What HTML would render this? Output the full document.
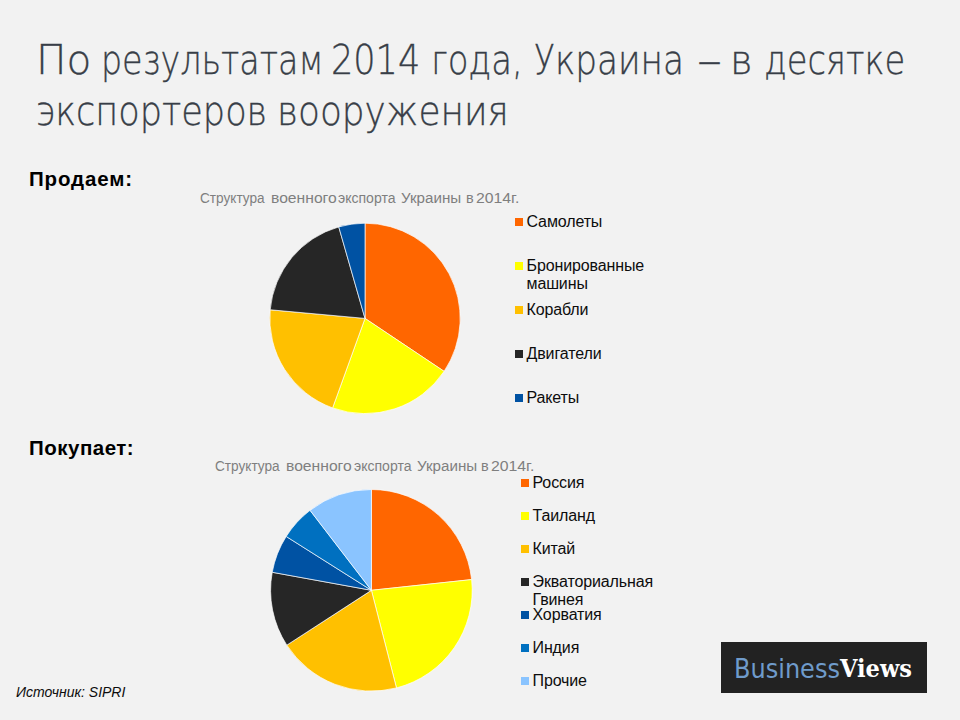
<!DOCTYPE html>
<html><head><meta charset="utf-8"><style>
html,body{margin:0;padding:0;}
body{width:960px;height:720px;background:#F2F2F2;position:relative;overflow:hidden;font-family:"Liberation Sans",Arial,sans-serif;}
.tt{margin:0;font-size:0}
.t{position:absolute;color:#383E47;font-family:"DejaVu Sans","Liberation Sans",sans-serif;font-weight:200;font-size:41px;white-space:nowrap;line-height:1;transform-origin:0 0;-webkit-text-stroke:0.35px #383E47}
.h{position:absolute;left:29px;font-weight:bold;font-size:20.5px;color:#000;line-height:1;white-space:nowrap;letter-spacing:0.85px}
.ctw{font-size:0}
.ct{position:absolute;color:#7F7F7F;font-size:14px;line-height:1;white-space:nowrap;transform-origin:0 0}
.sq{position:absolute;width:8px;height:8px}
.lg{position:absolute;font-size:16px;line-height:18px;color:#0D0D0D;white-space:nowrap;letter-spacing:-0.12px}
.src{position:absolute;left:16px;top:685px;font-style:italic;font-size:14px;color:#0D0D0D;line-height:1;white-space:nowrap}
.logo{position:absolute;left:721px;top:642px;width:206px;height:51px;background:#222222}
.logo span{position:absolute;line-height:1;white-space:nowrap;transform-origin:0 0}
svg{position:absolute;left:0;top:0}
.d{display:inline-block;transform:scaleX(1.7)}
</style></head><body>
<h1 class="tt"><span class="t" style="left:35.54px;top:40.0px;transform:scaleX(0.9898)">По</span> <span class="t" style="left:101.25px;top:40.0px;transform:scaleX(0.8113)">результатам</span> <span class="t" style="left:330.79px;top:40.0px;transform:scaleX(0.855)">2014</span> <span class="t" style="left:431.2px;top:40.0px;transform:scaleX(0.826)">года,</span> <span class="t" style="left:533.66px;top:40.0px;transform:scaleX(0.8362)">Украина</span> <span class="t" style="left:696.78px;top:40.0px;transform:scaleX(1.2222)">–</span> <span class="t" style="left:730.24px;top:40.0px;transform:scaleX(0.9412)">в</span> <span class="t" style="left:763.86px;top:40.0px;transform:scaleX(0.8214)">десятке</span> <span class="t" style="left:36.29px;top:90.6px;transform:scaleX(0.8556)">экспортеров</span> <span class="t" style="left:276.8px;top:90.6px;transform:scaleX(0.8743)">вооружения</span></h1>
<div class="h" style="top:168.9px">Продаем:</div>
<div class="h" style="top:438.0px;letter-spacing:0.5px">Покупает:</div>
<div class="ctw"><span class="ct" style="left:199.63px;top:191.4px;transform:scaleX(0.9727)">Структура</span> <span class="ct" style="left:270.78px;top:191.4px;transform:scaleX(1.1193)">военного</span> <span class="ct" style="left:338.40px;top:191.4px;transform:scaleX(1.0036)">экспорта</span> <span class="ct" style="left:401.42px;top:191.4px;transform:scaleX(1.0833)">Украины</span> <span class="ct" style="left:465.87px;top:191.4px;transform:scaleX(1.0333)">в</span> <span class="ct" style="left:476.37px;top:191.4px;transform:scaleX(1.1278)">2014г.</span></div>
<div class="ctw"><span class="ct" style="left:214.73px;top:459.0px;transform:scaleX(0.9727)">Структура</span> <span class="ct" style="left:285.88px;top:459.0px;transform:scaleX(1.1193)">военного</span> <span class="ct" style="left:353.50px;top:459.0px;transform:scaleX(1.0036)">экспорта</span> <span class="ct" style="left:416.52px;top:459.0px;transform:scaleX(1.0833)">Украины</span> <span class="ct" style="left:480.97px;top:459.0px;transform:scaleX(1.0333)">в</span> <span class="ct" style="left:491.47px;top:459.0px;transform:scaleX(1.1278)">2014г.</span></div>
<svg width="960" height="720" viewBox="0 0 960 720">
<g stroke="#ffffff" stroke-opacity="0.85" stroke-width="0.8" stroke-linejoin="round">
<path d="M365.00,318.40 L365.00,223.20 A95.2,95.2 0 0 1 444.11,371.36 Z" fill="#FF6600"/>
<path d="M365.00,318.40 L444.11,371.36 A95.2,95.2 0 0 1 332.60,407.92 Z" fill="#FFFF00"/>
<path d="M365.00,318.40 L332.60,407.92 A95.2,95.2 0 0 1 270.19,309.77 Z" fill="#FFC000"/>
<path d="M365.00,318.40 L270.19,309.77 A95.2,95.2 0 0 1 338.76,226.89 Z" fill="#262626"/>
<path d="M365.00,318.40 L338.76,226.89 A95.2,95.2 0 0 1 365.00,223.20 Z" fill="#0052A3"/>
<path d="M371.40,590.30 L371.40,489.50 A100.8,100.8 0 0 1 471.63,579.59 Z" fill="#FF6600"/>
<path d="M371.40,590.30 L471.63,579.59 A100.8,100.8 0 0 1 396.47,687.93 Z" fill="#FFFF00"/>
<path d="M371.40,590.30 L396.47,687.93 A100.8,100.8 0 0 1 286.81,645.13 Z" fill="#FFC000"/>
<path d="M371.40,590.30 L286.81,645.13 A100.8,100.8 0 0 1 272.22,572.28 Z" fill="#262626"/>
<path d="M371.40,590.30 L272.22,572.28 A100.8,100.8 0 0 1 286.20,536.44 Z" fill="#0052A3"/>
<path d="M371.40,590.30 L286.20,536.44 A100.8,100.8 0 0 1 310.04,510.33 Z" fill="#0070C0"/>
<path d="M371.40,590.30 L310.04,510.33 A100.8,100.8 0 0 1 371.40,489.50 Z" fill="#8AC4FF"/>
</g>
</svg>
<div class="sq" style="left:514.5px;top:218.2px;background:#FF6600"></div>
<div class="lg" style="left:526.5px;top:213.2px">Самолеты</div>
<div class="sq" style="left:514.5px;top:261.8px;background:#FFFF00"></div>
<div class="lg" style="left:526.5px;top:256.8px">Бронированные<br>машины</div>
<div class="sq" style="left:514.5px;top:306.2px;background:#FFC000"></div>
<div class="lg" style="left:526.5px;top:301.2px">Корабли</div>
<div class="sq" style="left:514.5px;top:350.3px;background:#262626"></div>
<div class="lg" style="left:526.5px;top:345.3px">Двигатели</div>
<div class="sq" style="left:514.5px;top:394.0px;background:#0052A3"></div>
<div class="lg" style="left:526.5px;top:389.0px">Ракеты</div>
<div class="sq" style="left:521px;top:479.2px;background:#FF6600"></div>
<div class="lg" style="left:532.5px;top:474.2px">Россия</div>
<div class="sq" style="left:521px;top:512.3px;background:#FFFF00"></div>
<div class="lg" style="left:532.5px;top:507.3px">Таиланд</div>
<div class="sq" style="left:521px;top:544.8px;background:#FFC000"></div>
<div class="lg" style="left:532.5px;top:539.8px">Китай</div>
<div class="sq" style="left:521px;top:578.1px;background:#262626"></div>
<div class="lg" style="left:532.5px;top:573.1px">Экваториальная<br>Гвинея</div>
<div class="sq" style="left:521px;top:611.3px;background:#0052A3"></div>
<div class="lg" style="left:532.5px;top:606.3px">Хорватия</div>
<div class="sq" style="left:521px;top:644.3px;background:#0070C0"></div>
<div class="lg" style="left:532.5px;top:639.3px">Индия</div>
<div class="sq" style="left:521px;top:676.5px;background:#8AC4FF"></div>
<div class="lg" style="left:532.5px;top:671.5px">Прочие</div>
<div class="src">Источник: SIPRI</div>
<div class="logo"><span style="left:12.6px;top:14.6px;font-size:25.7px;color:#6F9BCB;font-family:'DejaVu Sans',sans-serif;transform:scaleX(0.935)">Business</span><span style="left:119px;top:14.1px;font-size:25px;color:#fff;font-family:'DejaVu Serif',serif;font-weight:bold;transform:scaleX(0.9)">Views</span></div>
</body></html>
